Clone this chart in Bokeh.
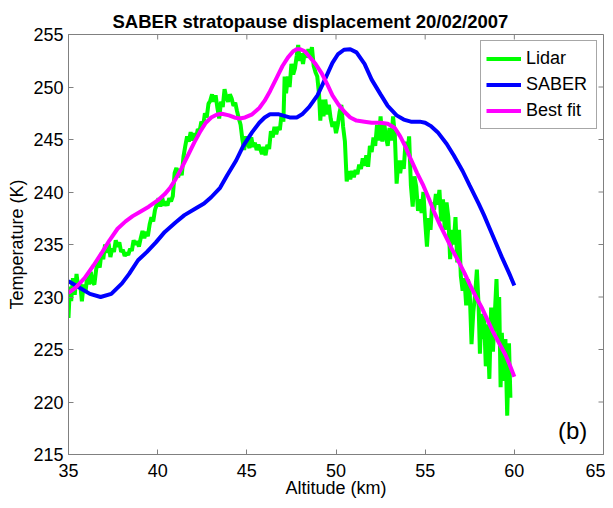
import math
from bokeh.plotting import figure
from bokeh.models import Range1d, FixedTicker, Legend, LegendItem, Label
from bokeh.embed import file_html
from bokeh.resources import INLINE

TITLE = "SABER stratopause displacement 20/02/2007"
X_LABEL = "Altitude (km)"
Y_LABEL = "Temperature (K)"
X_TICKS = [35, 40, 45, 50, 55, 60, 65]
Y_TICKS = [215, 220, 225, 230, 235, 240, 245, 250, 255]

SABER_ALT = [35.0, 35.6, 36.2, 36.8, 37.4, 38.0, 38.4, 38.9, 39.4, 39.9, 40.4, 41.0, 41.5, 42.1,
             42.6, 43.0, 43.5, 43.9, 44.4, 44.8, 45.3, 45.7, 46.0, 46.3, 46.8, 47.4, 47.8, 48.1,
             48.5, 48.96, 49.4, 49.8, 50.1, 50.45, 50.8, 51.15, 51.6, 52.0, 52.5, 52.9, 53.4,
             53.8, 54.2, 54.7, 55.0, 55.3, 55.7, 56.2, 56.6, 57.1, 57.5, 58.0, 58.3, 58.6, 59.0,
             59.3, 59.7, 60.0]
SABER_T = [231.5, 230.9, 230.3, 230.0, 230.3, 231.3, 232.2, 233.5, 234.3, 235.2, 236.2, 237.1,
           237.8, 238.4, 238.9, 239.5, 240.4, 241.6, 243.0, 244.4, 245.7, 246.6, 247.1, 247.4,
           247.4, 247.1, 247.1, 247.4, 248.1, 249.2, 250.8, 252.3, 253.1, 253.55, 253.6, 253.3,
           252.2, 250.7, 249.3, 248.2, 247.3, 246.9, 246.7, 246.7, 246.6, 246.3, 245.7, 244.6,
           243.5, 242.0, 240.6, 238.9, 237.8, 236.6, 235.0, 233.8, 232.3, 231.1]

FIT_ALT = [35.0, 35.4, 35.9, 36.4, 36.9, 37.3, 37.75, 38.2, 38.6, 39.0, 39.5, 40.0, 40.4, 40.7,
           41.0, 41.35, 41.7, 42.05, 42.4, 42.7, 43.0, 43.3, 43.6, 44.0, 44.3, 44.6, 44.9, 45.3,
           45.7, 46.0, 46.3, 46.65, 47.0, 47.3, 47.6, 47.8, 48.0, 48.25, 48.5, 48.85, 49.2, 49.5,
           49.8, 50.15, 50.5, 50.8, 51.15, 51.6, 52.0, 52.5, 52.9, 53.3, 53.6, 53.9, 54.2, 54.55,
           54.9, 55.2, 55.5, 55.85, 56.2, 56.55, 56.9, 57.2, 57.5, 57.85, 58.2, 58.5, 58.8, 59.15,
           59.5, 59.75, 60.0]
FIT_T = [230.4, 230.9, 231.8, 233.0, 234.3, 235.4, 236.5, 237.2, 237.7, 238.1, 238.6, 239.2,
         239.8, 240.4, 241.2, 242.3, 243.5, 244.7, 245.8, 246.6, 247.1, 247.35, 247.45, 247.3,
         247.1, 247.0, 247.1, 247.4, 248.0, 248.7, 249.6, 250.8, 252.0, 252.8, 253.4, 253.6,
         253.6, 253.4, 252.9, 252.2, 251.3, 250.3, 249.2, 248.3, 247.6, 247.1, 246.8, 246.7,
         246.6, 246.6, 246.5, 246.1, 245.3, 244.3, 243.1, 241.8, 240.6, 239.4, 238.1, 236.8,
         235.6, 234.4, 233.3, 232.3, 231.2, 230.0, 228.9, 227.8, 226.7, 225.6, 224.5, 223.5,
         222.4]

LIDAR_ALT = [35.0, 35.08, 35.15, 35.25, 35.35, 35.45, 35.55, 35.65, 35.75, 35.85, 35.95, 36.05,
             36.15, 36.25, 36.35, 36.45, 36.55, 36.65, 36.75, 36.85, 36.95, 37.05, 37.15, 37.25,
             37.35, 37.45, 37.55, 37.65, 37.75, 37.85, 37.95, 38.05, 38.15, 38.25, 38.35, 38.45,
             38.55, 38.65, 38.75, 38.85, 38.95, 39.05, 39.15, 39.25, 39.35, 39.45, 39.55, 39.65,
             39.75, 39.85, 39.95, 40.05, 40.15, 40.25, 40.35, 40.45, 40.55, 40.65, 40.75, 40.85,
             40.95, 41.05, 41.15, 41.25, 41.35, 41.45, 41.55, 41.65, 41.75, 41.85, 41.95, 42.05,
             42.15, 42.25, 42.35, 42.45, 42.55, 42.65, 42.75, 42.85, 42.95, 43.05, 43.15, 43.25,
             43.35, 43.45, 43.55, 43.65, 43.75, 43.85, 43.95, 44.05, 44.15, 44.25, 44.35, 44.45,
             44.55, 44.65, 44.75, 44.85, 44.95, 45.05, 45.15, 45.25, 45.35, 45.45, 45.55, 45.65,
             45.75, 45.85, 45.95, 46.05, 46.15, 46.25, 46.35, 46.45, 46.55, 46.65, 46.75, 46.85,
             46.95, 47.05, 47.12, 47.2, 47.3, 47.4, 47.5, 47.6, 47.7, 47.8, 47.88, 47.96, 48.05,
             48.15, 48.25, 48.35, 48.45, 48.55, 48.65, 48.75, 48.85, 48.95, 49.05, 49.12, 49.2,
             49.3, 49.4, 49.5, 49.6, 49.7, 49.8, 49.9, 50.0, 50.1, 50.2, 50.3, 50.4, 50.5, 50.6,
             50.7, 50.8, 50.9, 51.0, 51.1, 51.2, 51.3, 51.4, 51.5, 51.6, 51.7, 51.8, 51.9, 52.0,
             52.1, 52.2, 52.3, 52.4, 52.5, 52.6, 52.7, 52.8, 52.9, 53.0, 53.1, 53.2, 53.3, 53.4,
             53.5, 53.6, 53.7, 53.8, 53.9, 54.0, 54.1, 54.2, 54.3, 54.4, 54.5, 54.6, 54.7, 54.8,
             54.9, 55.0, 55.1, 55.2, 55.3, 55.4, 55.5, 55.6, 55.7, 55.8, 55.9, 56.0, 56.1, 56.2,
             56.3, 56.4, 56.5, 56.6, 56.7, 56.8, 56.9, 57.0, 57.1, 57.2, 57.3, 57.4, 57.5, 57.6,
             57.7, 57.8, 57.9, 58.0, 58.07, 58.15, 58.2, 58.3, 58.4, 58.5, 58.6, 58.7, 58.8, 58.9,
             59.0, 59.1, 59.15, 59.23, 59.3, 59.4, 59.5, 59.6, 59.7, 59.78, 59.85, 59.92, 60.0]
LIDAR_T = [228.0, 231.0, 229.6, 231.8, 230.2, 232.2, 230.8, 231.4, 229.6, 231.2, 230.4, 232.0,
           231.2, 232.4, 231.4, 231.2, 232.6, 233.4, 232.8, 234.2, 233.6, 235.0, 234.2, 235.1,
           233.8, 234.6, 234.3, 235.4, 234.8, 235.2, 234.3, 234.5, 233.9, 234.2, 234.0, 234.6,
           234.4, 235.4, 235.0, 235.3, 234.8, 235.6, 236.3, 235.6, 236.2, 235.8, 236.9, 237.6,
           237.2, 238.3, 238.8, 239.4, 238.6, 239.5, 238.7, 239.1, 238.7, 239.4, 239.1, 239.6,
           241.8, 242.3, 241.4, 242.2, 241.6, 243.4, 244.4, 245.3, 244.8, 245.7, 244.9, 245.6,
           245.1, 246.0, 245.8, 246.7, 246.3, 247.5, 247.1, 248.4, 248.7, 249.3, 248.6, 249.2,
           248.0, 247.0, 248.6, 248.1, 249.8, 249.0, 248.6, 249.3, 248.9, 248.2, 248.5, 247.7,
           247.0, 246.4, 245.0, 244.0, 245.3, 244.6, 244.2, 245.2, 244.3, 244.7, 244.0, 244.5,
           244.1, 243.6, 244.3, 243.5, 244.5, 244.1, 245.8, 245.2, 246.2, 245.5, 246.2, 245.9,
           247.4, 246.7, 251.0, 249.4, 251.0, 250.0, 252.2, 251.2, 251.8, 253.0, 254.0, 252.5,
           253.2, 252.2, 253.3, 252.8, 253.6, 252.8, 253.8, 252.0, 251.4, 251.0, 249.3, 246.8,
           248.8, 247.2, 248.8, 247.4, 248.3, 247.0, 246.2, 246.7, 245.6, 246.4, 247.6, 248.3,
           246.2, 244.8, 241.0, 242.0, 241.2, 242.0, 241.4, 242.1, 241.7, 242.6, 242.2, 243.2,
           242.5, 243.5, 242.4, 244.4, 243.8, 245.2, 244.4, 246.4, 244.9, 247.2, 244.8, 246.6,
           245.3, 244.4, 246.1, 244.9, 247.2, 245.4, 240.8, 243.0, 241.8, 243.0, 242.2, 244.8,
           243.6, 245.3, 240.6, 238.6, 241.5, 240.5, 238.2, 239.3, 238.0, 240.0, 237.2, 234.8,
           237.5, 236.4, 239.0, 238.3, 239.8, 238.8, 240.2, 237.2, 239.3, 236.4, 239.0, 237.6,
           233.6, 236.4, 235.0, 237.6, 233.3, 236.4, 232.0, 230.6, 231.8, 229.2, 231.7, 230.4,
           225.5, 228.6, 230.2, 232.6, 229.0, 224.6, 228.4, 226.0, 228.2, 223.4, 227.4, 222.2,
           229.0, 224.8, 228.2, 231.7, 226.0, 230.0, 221.4, 226.6, 222.0, 226.0, 218.7, 225.6,
           220.4]

X_MIN, X_MAX = X_TICKS[0], X_TICKS[-1]
Y_MIN, Y_MAX = Y_TICKS[0], Y_TICKS[-1]

GRAY = "#808080"
FONT = "Liberation Sans"

p = figure(width=605, height=500, x_range=Range1d(X_MIN, X_MAX), y_range=Range1d(Y_MIN, Y_MAX),
           output_backend="svg", toolbar_location=None,
           min_border_left=68, min_border_right=2, min_border_top=34, min_border_bottom=44)
p.xgrid.visible = False
p.ygrid.visible = False
p.outline_line_color = GRAY
p.background_fill_color = "white"
p.border_fill_color = "white"

p.title.text = TITLE
p.title.text_font = FONT
p.title.text_font_size = "18.5px"
p.title.text_font_style = "bold"
p.title.text_color = "black"
p.title.align = "left"
p.title.offset = 44
p.title.standoff = 5

bottom_ax = p.below[0]
left_ax = p.left[0]
for ax, ticks in ((bottom_ax, X_TICKS), (left_ax, Y_TICKS)):
    ax.ticker = FixedTicker(ticks=ticks)
    ax.major_tick_in = 5
    ax.major_tick_out = 0
    ax.minor_tick_line_color = None
    ax.axis_line_color = GRAY
    ax.major_tick_line_color = GRAY
    ax.major_label_text_font = FONT
    ax.major_label_text_font_size = "18px"
    ax.major_label_text_color = "black"
    ax.axis_label_text_font = FONT
    ax.axis_label_text_font_size = "18px"
    ax.axis_label_text_font_style = "normal"
    ax.axis_label_text_color = "black"

bottom_ax.axis_label = X_LABEL
bottom_ax.major_label_standoff = 9
bottom_ax.axis_label_standoff = -2
left_ax.axis_label = Y_LABEL
left_ax.major_label_standoff = 5
left_ax.axis_label_standoff = 3

# tick marks on the top and right frame edges (5 px, inward)
p.ray(x=X_TICKS, y=[Y_MAX] * len(X_TICKS), length=5, length_units="screen",
      angle=-math.pi / 2, line_color=GRAY, line_width=1)
p.ray(x=[X_MAX] * len(Y_TICKS), y=Y_TICKS, length=5, length_units="screen",
      angle=math.pi, line_color=GRAY, line_width=1)

r_lidar = p.line(LIDAR_ALT, LIDAR_T, line_color="#00ff00", line_width=4)
r_saber = p.line(SABER_ALT, SABER_T, line_color="#0000ff", line_width=4)
r_fit = p.line(FIT_ALT, FIT_T, line_color="#ff00ff", line_width=4)

legend = Legend(items=[LegendItem(label="Lidar", renderers=[r_lidar]),
                       LegendItem(label="SABER", renderers=[r_saber]),
                       LegendItem(label="Best fit", renderers=[r_fit])],
                location="top_right")
legend.margin = 6
legend.padding = 5
legend.spacing = 1
legend.glyph_width = 35
legend.glyph_height = 25
legend.label_height = 25
legend.label_width = 65
legend.label_standoff = 5
legend.label_text_font = FONT
legend.label_text_font_size = "18px"
legend.label_text_color = "black"
legend.border_line_color = "#505050"
legend.background_fill_alpha = 1.0
p.add_layout(legend)

p.add_layout(Label(x=62.45, y=217.3, text="(b)", text_font=FONT, text_font_size="24px",
                   text_color="black", text_baseline="middle", text_align="left"))

open("out.html", "w").write(file_html(p, INLINE))
